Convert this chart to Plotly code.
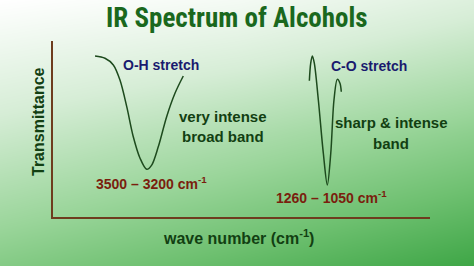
import plotly.graph_objects as go

# ---- data (schematic IR spectrum of alcohols) ----
oh_wavenumber = [3621, 3531, 3456, 3396, 3335, 3276, 3215, 3155, 3110, 3050, 2975, 2900, 2825]
oh_transmittance = [91.5, 90.2, 86.4, 77.8, 62.7, 45.6, 33.4, 27.1, 29.5, 40.0, 57.0, 70.3, 80.1]

co_wavenumber = [1688, 1676, 1661, 1643, 1607, 1562, 1526, 1495, 1466, 1436, 1412, 1400]
co_transmittance = [77.4, 87.3, 91.5, 87.3, 66.5, 36.2, 18.2, 36.2, 66.5, 78.2, 76.0, 71.2]

title_text = "IR Spectrum of Alcohols"
x_label = "wave number (cm<sup>-1</sup>)"
y_label = "Transmittance"

W, H = 474, 266

def px(x):
    return x / W

def py(y):
    return 1 - y / H

fig = go.Figure()

# background gradient (decorative)
bg_x = [0, 0.5, 1]
bg_y = [0, 0.5, 1]
bg_z = [[0.70, 0.85, 1.00],
        [0.35, 0.50, 0.66],
        [0.00, 0.08, 0.25]]
fig.add_trace(go.Heatmap(
    x=bg_x, y=bg_y, z=bg_z, zsmooth="best", showscale=False, hoverinfo="skip",
    zmin=0, zmax=1,
    colorscale=[[0, "#ffffff"], [0.3, "#d6edd6"], [0.6, "#9ad59a"], [0.8, "#6ec070"], [1, "#3ea646"]],
    xaxis="x", yaxis="y"))

line_col = "#1d4a1d"
fig.add_trace(go.Scatter(x=oh_wavenumber, y=oh_transmittance, mode="lines",
                         line=dict(color=line_col, width=1.5, shape="spline", smoothing=0.9),
                         xaxis="x2", yaxis="y2", showlegend=False, hoverinfo="skip"))
fig.add_trace(go.Scatter(x=co_wavenumber, y=co_transmittance, mode="lines",
                         line=dict(color=line_col, width=1.5, shape="spline", smoothing=0.9),
                         xaxis="x2", yaxis="y2", showlegend=False, hoverinfo="skip"))

axis_col = "#6e3c1e"
fig.update_layout(
    width=W, height=H,
    margin=dict(l=0, r=0, t=0, b=0),
    paper_bgcolor="white", plot_bgcolor="rgba(0,0,0,0)",
    showlegend=False,
    xaxis=dict(domain=[0, 1], range=[0, 1], visible=False, fixedrange=True),
    yaxis=dict(domain=[0, 1], range=[0, 1], visible=False, fixedrange=True),
    xaxis2=dict(domain=[53 / W, 430 / W], range=[4000, 600], anchor="y2",
                showline=True, linecolor=axis_col, linewidth=1.5, showgrid=False,
                zeroline=False, showticklabels=False, ticks=""),
    yaxis2=dict(domain=[py(217), py(41)], range=[0, 100], anchor="x2",
                showline=True, linecolor=axis_col, linewidth=1.5, showgrid=False,
                zeroline=False, showticklabels=False, ticks=""),
)

navy = "#1a1a6e"
dgreen = "#123f12"
brown = "#7a1e0e"
bold = "Liberation Sans, Arial, sans-serif"

def ann(text, x, y, size, color, family=bold, angle=0):
    fig.add_annotation(text="<b>%s</b>" % text, x=px(x), y=py(y), xref="paper", yref="paper",
                       showarrow=False, xanchor="center", yanchor="middle", textangle=angle,
                       font=dict(size=size, color=color, family=family))

ann(title_text, 236.5, 18, 27, "#1a681d",
    family="Roboto Condensed, DejaVu Sans Condensed, Roboto, sans-serif")
ann("O-H stretch", 160.5, 65, 14, navy)
ann("very intense", 223, 116, 15, dgreen)
ann("broad band", 223, 136.5, 15, dgreen)
ann("3500 – 3200 cm<sup>-1</sup>", 151, 183, 14, brown)
ann("C-O stretch", 369, 66, 14, navy)
ann("sharp &amp; intense", 391, 122, 15, dgreen)
ann("band", 391, 143, 15, dgreen)
ann("1260 – 1050 cm<sup>-1</sup>", 331, 197.5, 14, brown)
ann(x_label, 238.5, 237, 16, dgreen)
ann(y_label, 38, 122, 16, dgreen, angle=-90)

fig.write_html("out.html")
